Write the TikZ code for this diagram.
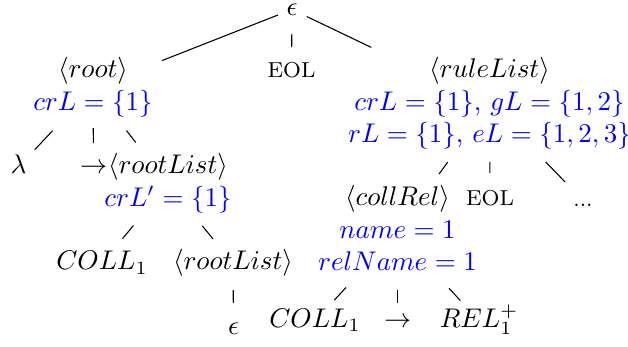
\documentclass[tikz,border=0pt]{standalone}
\begin{document}
\begin{tikzpicture}[x=0.37037pt,y=-0.37037pt,
  lbl/.style={inner sep=0pt,align=center},
  edge/.style 2 args={draw,line width=0.4pt,shorten <=#1pt,shorten >=#2pt}]
\useasboundingbox (0,0) rectangle (628,347);
% level 0
\node[lbl] (eps0) at (292,9.5) {\strut$\epsilon$};
% level 1
\node[lbl] (root) at (93,87.7) {\strut$\langle root\rangle$\\\strut\textcolor{blue}{$crL=\{1\}$}};
\node[lbl] (eol1) at (291.5,71.5) {\strut{\footnotesize EOL}};
\node[lbl] (rule) at (489.5,103.9) {\strut$\langle ruleList\rangle$\\\strut\textcolor{blue}{$crL=\{1\}$, $gL=\{1,2\}$}\\\strut\textcolor{blue}{$rL=\{1\}$, $eL=\{1,2,3\}$}};
% level 2
\node[lbl] (lam) at (18.5,167) {\strut$\lambda$};
\node[lbl] (arr1) at (93.5,167.5) {\strut$\rightarrow$};
\node[lbl] (rl1) at (168,183.7) {\strut$\langle rootList\rangle$\\\strut\textcolor{blue}{$crL'=\{1\}$}};
\node[lbl] (coll) at (397.5,231.9) {\strut$\langle collRel\rangle$\\\strut\textcolor{blue}{$name=1$}\\\strut\textcolor{blue}{$relName=1$}};
\node[lbl] (eol2) at (490,199.5) {\strut{\footnotesize EOL}};
\node[lbl] (dots) at (583,200.5) {\strut{\footnotesize ...}};
% level 3
\node[lbl] (coll1a) at (102,263.5) {\strut$COLL_1$};
\node[lbl] (rl2) at (233,263.5) {\strut$\langle rootList\rangle$};
% level 4
\node[lbl] (eps2) at (233.5,328.5) {\strut$\epsilon$};
\node[lbl] (coll1b) at (315,321) {\strut$COLL_1$};
\node[lbl] (arr2) at (397.5,321) {\strut$\rightarrow$};
\node[lbl] (rel) at (479,321) {\strut$REL_1^+$};
% edges
\draw[edge={5.56}{27.41}] (eps0.center) -- (root.center);
\draw[edge={9.07}{9.07}] (eps0.center) -- (eol1.center);
\draw[edge={6.06}{48.52}] (eps0.center) -- (rule.center);
\draw[edge={21.83}{8.78}] (root.center) -- (lam.center);
\draw[edge={14.93}{9.07}] (root.center) -- (arr1.center);
\draw[edge={20.15}{19.41}] (root.center) -- (rl1.center);
\draw[edge={20.11}{11.96}] (rl1.center) -- (coll1a.center);
\draw[edge={20.11}{11.70}] (rl1.center) -- (rl2.center);
\draw[edge={9.81}{9.44}] (rl2.center) -- (eps2.center);
\draw[edge={26.56}{26.37}] (rule.center) -- (coll.center);
\draw[edge={21.52}{9.81}] (rule.center) -- (eol2.center);
\draw[edge={29.89}{9.56}] (rule.center) -- (dots.center);
\draw[edge={28.04}{10.52}] (coll.center) -- (coll1b.center);
\draw[edge={21.52}{6.67}] (coll.center) -- (arr2.center);
\draw[edge={28.26}{10.26}] (coll.center) -- (rel.center);
\end{tikzpicture}
\end{document}
